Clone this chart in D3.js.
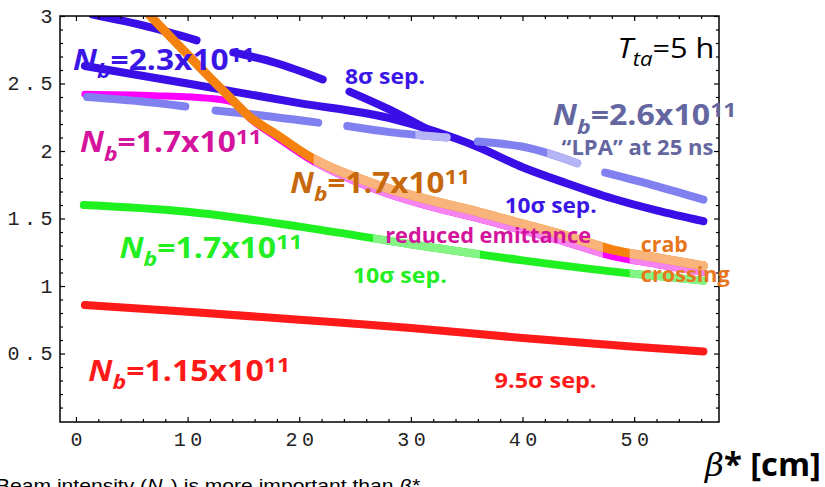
<!DOCTYPE html>
<html>
<head>
<meta charset="utf-8">
<script src="https://cdn.jsdelivr.net/npm/d3@7"></script>
<style>
  body { margin: 0; background: #fff; }
  svg { display: block; }
</style>
</head>
<body>
<div id="svg_div"></div>
<script>
var w = 825, h = 487;

// values: beta* [cm] -> luminosity (null = gap between pieces)
var red_beta = [0.8, 10, 20, 30, 40, 50, 56.2];
var red_lumi = [0.86, 0.81, 0.75, 0.69, 0.615, 0.55, 0.515];

var green_beta = [0.7, 10, 20, 30, 40, 50, 56.2];
var green_lumi = [1.60, 1.55, 1.44, 1.31, 1.19, 1.09, 1.04];

var magenta_beta = [0.8, 7, 12, 14.1, 15.6, 18, 20.7, 26.6, 32, 36, 40, 44, 48, 52, 56.2];
var magenta_lumi = [2.42, 2.41, 2.39, 2.36, 2.24, 2.10, 1.95, 1.72, 1.58, 1.50, 1.41, 1.32, 1.22, 1.16, 1.10];

var orange_beta = [6.2, 9, 11.1, 13.5, 15.6, 18, 20.7, 26.6, 32, 36, 40, 44, 48, 52, 56.2];
var orange_lumi = [3.04, 2.80, 2.62, 2.42, 2.25, 2.12, 1.97, 1.76, 1.63, 1.55, 1.46, 1.37, 1.27, 1.21, 1.15];

var blue10_beta = [0.8, 10, 20, 28, 32, 36, 40, 44, 48, 52, 56.2];
var blue10_lumi = [2.63, 2.50, 2.355, 2.245, 2.15, 2.03, 1.88, 1.76, 1.65, 1.56, 1.48];

var blue8_beta = [1.5, 6, 10.8, null, 14.1, 18, 22.1, null, 24.5, 28, 31.7];
var blue8_lumi = [3.01, 2.93, 2.82, null, 2.73, 2.65, 2.53, null, 2.44, 2.31, 2.15];

var lpa_beta = [1.0, 5.5, 9.8, null, 12.5, 17, 21.7, null, 24.3, 28.1, 33.2, null, 36.0, 40.7, 44.9, null, 47.4, 52, 56.2];
var lpa_lumi = [2.40, 2.37, 2.33, null, 2.30, 2.26, 2.21, null, 2.185, 2.14, 2.10, null, 2.07, 2.02, 1.91, null, 1.84, 1.74, 1.64];

// axis ticks
var x_major = [0, 10, 20, 30, 40, 50];
var y_major = [0.5, 1, 1.5, 2, 2.5, 3];

var svg = d3.select('#svg_div')
  .append('svg')
    .attr('width', w)
    .attr('height', h);

var x = d3.scaleLinear().domain([-1.43, 57.6]).range([60, 719]);
var y = d3.scaleLinear().domain([-0.007, 3.0]).range([422, 16]);

svg.append('clipPath').attr('id', 'plotclip')
  .append('rect')
    .attr('x', 60).attr('y', 16)
    .attr('width', 659).attr('height', 406);

var line = d3.line()
  .defined(function(d) { return d[1] != null; })
  .x(function(d) { return x(d[0]); })
  .y(function(d) { return y(d[1]); })
  .curve(d3.curveMonotoneX);

function zip(a, b) {
  return a.map(function(v, i) { return [v, b[i]]; });
}

var clip_n = 0;
// draws a curve, then paints the washed-out parts over it (x ranges in beta units)
function curve(bx, ly, col, width, light_col, light_ranges) {
  var pts = zip(bx, ly);
  var g = svg.append('g').attr('clip-path', 'url(#plotclip)');
  g.append('path')
    .datum(pts)
    .attr('d', line)
    .attr('fill', 'none')
    .attr('stroke', col)
    .attr('stroke-width', width)
    .attr('stroke-linecap', 'round')
    .attr('stroke-linejoin', 'round');
  if (!light_ranges) return;
  light_ranges.forEach(function(r) {
    var id = 'lt' + (clip_n++);
    svg.append('clipPath').attr('id', id)
      .append('rect')
        .attr('x', x(r[0])).attr('y', 16)
        .attr('width', x(r[1]) - x(r[0])).attr('height', 406);
    g.append('g').attr('clip-path', 'url(#' + id + ')')
      .append('path')
        .datum(pts)
        .attr('d', line)
        .attr('fill', 'none')
        .attr('stroke', light_col)
        .attr('stroke-width', width)
        .attr('stroke-linecap', 'round')
        .attr('stroke-linejoin', 'round');
  });
}

curve(red_beta, red_lumi, '#ff1a1a', 8);
curve(green_beta, green_lumi, '#1ff01f', 8, '#84f484', [[26.6, 36.2], [49.6, 60]]);
curve(magenta_beta, magenta_lumi, '#ff00ff', 7, '#f584f0', [[21.3, 47.2], [49.6, 60]]);
curve(blue10_beta, blue10_lumi, '#3a0ee6', 8);
curve(blue8_beta, blue8_lumi, '#3a0ee6', 8);
curve(lpa_beta, lpa_lumi, '#8080f0', 8, '#b4b4f6', [[30.4, 34], [42.2, 46]]);
curve(orange_beta, orange_lumi, '#f5820f', 9, '#f9b47c', [[21.3, 47.2], [49.6, 60]]);

// frame with inward ticks on all four sides
var x_minor = d3.range(0, 58, 2).filter(function(v) { return v % 10 != 0; });
var y_minor = d3.range(1, 30).map(function(i) { return i / 10; })
  .filter(function(v) { return Math.abs(v * 2 - Math.round(v * 2)) > 1e-6; });

var mono = "'Courier New', 'Liberation Mono', monospace";
var sp = 4.5;

function ticks(make, scale, tx, ty, pad, majors, minors, labels) {
  var gMin = svg.append('g').attr('transform', 'translate(' + tx + ',' + ty + ')')
    .call(make(scale).tickValues(minors).tickSize(-3).tickFormat(''));
  gMin.select('.domain').remove();
  var gMaj = svg.append('g').attr('transform', 'translate(' + tx + ',' + ty + ')')
    .call(make(scale).tickValues(majors).tickSize(-5).tickPadding(pad)
      .tickFormat(labels ? function(d) { return d; } : ''));
  gMaj.select('.domain').remove();
  svg.selectAll('.tick line').attr('stroke', '#000').attr('stroke-width', 1.2);
  return gMaj;
}

var gb = ticks(d3.axisBottom, x, 0, 422, 10, x_major, x_minor, true);
ticks(d3.axisTop, x, 0, 16, 0, x_major, x_minor, false);
var gl = ticks(d3.axisLeft, y, 60, 0, 2, y_major, y_minor, true);
ticks(d3.axisRight, y, 719, 0, 0, y_major, y_minor, false);

gb.selectAll('text')
  .attr('font-family', mono).attr('font-size', 20)
  .attr('letter-spacing', sp).attr('dx', sp / 2)
  .attr('fill', '#222');
gl.selectAll('text')
  .attr('font-family', mono).attr('font-size', 20)
  .attr('letter-spacing', sp).attr('dx', -1)
  .attr('fill', '#222');

svg.append('rect')
  .attr('x', 60).attr('y', 16)
  .attr('width', 659).attr('height', 406)
  .attr('fill', 'none')
  .attr('stroke', '#000')
  .attr('stroke-width', 1.5);

// labels: parts are [text, kind], kind = 'i' italic, 'sub', 'sup', 'isub' or ''
var sans = "'Open Sans', 'Noto Sans', sans-serif";

function nb(m) {
  return [['N', 'i'], ['b', 'isub'], ['=' + m + 'x10', ''], ['11', 'sup']];
}

function label(parts, at, col, size, width, weight, family) {
  var g = svg.append('g')
    .attr('transform', 'translate(' + x(at[0]) + ',' + y(at[1]) + ')');
  var t = g.append('text')
    .attr('fill', col)
    .attr('font-family', family || sans)
    .attr('font-weight', weight || 'bold')
    .attr('font-size', size);
  var shift = 0;
  parts.forEach(function(p) {
    var s = t.append('tspan').text(p[0]);
    var want = 0;
    if (p[1] == 'i') s.attr('font-style', 'italic');
    if (p[1] == 'sub' || p[1] == 'isub') {
      s.attr('font-size', size * 0.72);
      want = size * 0.3;
      if (p[1] == 'isub') s.attr('font-style', 'italic');
    }
    if (p[1] == 'sup') {
      s.attr('font-size', size * 0.72);
      want = -size * 0.3;
    }
    s.attr('dy', want - shift);
    shift = want;
  });
  var bw = t.node().getBBox().width;
  t.attr('transform', 'scale(' + (width / bw) + ',1)');
}

label(nb('2.3'), [-0.27, 2.60], '#3a16e6', 28, 182);
label([['8σ sep.', '']], [24.1, 2.50], '#3a16e6', 21, 80);
label(nb('2.6'), [42.7, 2.19], '#6466a0', 28, 184);
label([['“LPA” at 25 ns', '']], [43.5, 1.97], '#6466a0', 21, 152);
label([['T', 'i'], ['ta', 'isub'], ['=5 h', '']], [48.5, 2.69], '#000', 28, 97, 'normal');
label(nb('1.7'), [0.36, 1.99], '#d4149c', 28, 182);
label(nb('1.7'), [19.2, 1.69], '#c8680c', 28, 180);
label([['10σ sep.', '']], [38.4, 1.54], '#3a16e6', 21, 92);
label([['reduced emittance', '']], [27.7, 1.32], '#d4149c', 21, 206);
label([['crab', '']], [50.6, 1.25], '#e8761c', 21, 47);
label([['crossing', '']], [50.6, 1.03], '#e8761c', 21, 89);
label(nb('1.7'), [3.9, 1.21], '#22ee22', 28, 183);
label([['10σ sep.', '']], [24.8, 1.02], '#22ee22', 21, 94);
label(nb('1.15'), [1.1, 0.30], '#ff1a1a', 28, 202);
label([['9.5σ sep.', '']], [37.5, 0.245], '#ff1a1a', 21, 102);

// axis title and the caption line at the bottom (outside the plot, plain pixels)
var tt = svg.append('g').attr('transform', 'translate(705,476)');
var tx = tt.append('text').attr('font-size', 32).attr('fill', '#000');
tx.append('tspan').text('β').attr('font-family', "'DejaVu Serif', serif").attr('font-style', 'italic');
tx.append('tspan').text('* [cm]').attr('font-family', sans).attr('font-weight', 'bold');
tx.attr('transform', 'scale(' + (117 / tx.node().getBBox().width) + ',1)');

var cap = svg.append('g').attr('transform', 'translate(-4,492)');
var cx = cap.append('text').attr('font-size', 18).attr('fill', '#000')
  .attr('font-family', "'Liberation Sans', Arial, sans-serif");
cx.append('tspan').text('Beam intensity (');
cx.append('tspan').text('N').attr('font-style', 'italic');
cx.append('tspan').text('b').attr('font-style', 'italic').attr('font-size', 13).attr('dy', 4);
cx.append('tspan').text(') is more important than ').attr('dy', -4);
cx.append('tspan').text('β*').attr('font-style', 'italic');
cx.attr('transform', 'scale(' + (425 / cx.node().getBBox().width) + ',1)');
</script>
</body>
</html>
